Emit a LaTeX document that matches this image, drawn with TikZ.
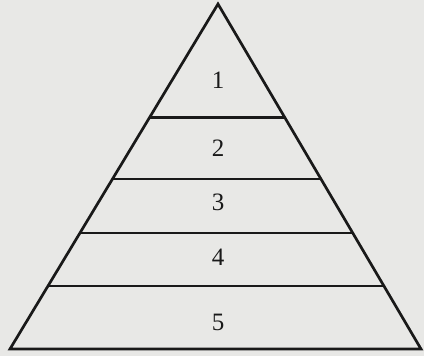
\documentclass[tikz,border=0pt]{standalone}
\usepackage{tikz}
\usepackage{xcolor}
\usepackage{fontspec}
\setmainfont{Liberation Serif}
\definecolor{papergray}{RGB}{232, 232, 230}
\definecolor{inkblack}{RGB}{25, 25, 25}
\usetikzlibrary{calc}
\tikzstyle{edge} = [draw=inkblack, line width=2.7pt, line join=miter]
\tikzstyle{level} = [font=\fontsize{25}{30}\selectfont, text=inkblack, inner sep=0pt]

\begin{document}
\begin{tikzpicture}[x=1pt, y=1pt]
    \fill[papergray] (0,0) rectangle (424,356);
    \useasboundingbox (0,0) rectangle (424,356);
    \coordinate (apex) at (218, 352);
    \coordinate (bl) at (10, 7);
    \coordinate (br) at (421, 7);
    % outline of the pyramid
    \draw[edge] (apex) -- (bl) -- (br) -- cycle;
    % dividing lines
    \foreach \t in {0.328, 0.507, 0.664, 0.817}
        \draw[edge] ($(apex)!\t!(bl)$) -- ($(apex)!\t!(br)$);
    \node[level] (one) at (218, 276) {1};
    \node[level] (two) at (218, 208) {2};
    \node[level] (three) at (218, 154) {3};
    \node[level] (four) at (218, 99) {4};
    \node[level] (five) at (218, 34) {5};
\end{tikzpicture}
\end{document}
